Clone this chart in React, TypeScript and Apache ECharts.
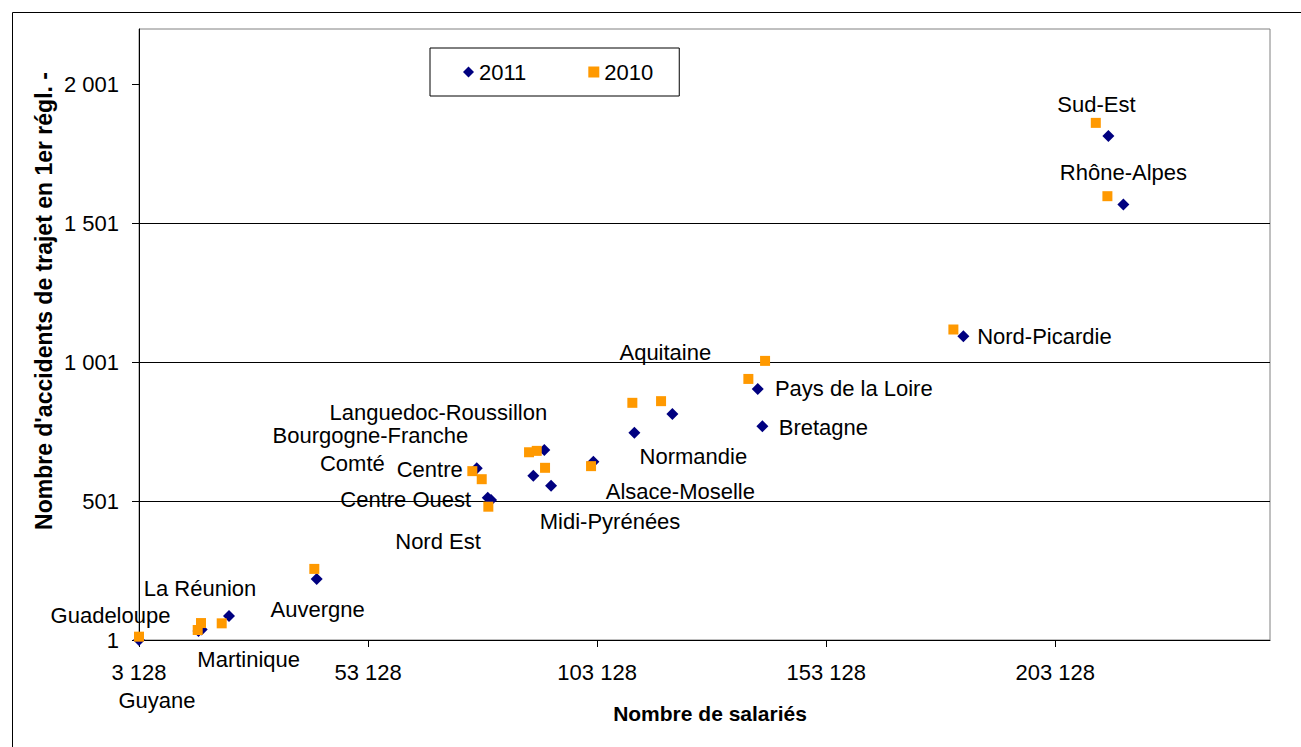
import React, { useEffect, useRef } from 'react';
import * as echarts from 'echarts';

const X_MIN = 3128;
const X_MAX = 250000;
const Y_MIN = 1;
const Y_MAX = 2201;
const X_STEP = 50000;
const Y_STEP = 500;

const regions = [
  'Guyane', 'Guadeloupe', 'Martinique', 'La Réunion', 'Auvergne', 'Centre',
  'Centre Ouest', 'Nord Est', 'Bourgogne-Franche\nComté', 'Languedoc-Roussillon',
  'Midi-Pyrénées', 'Alsace-Moselle', 'Normandie', 'Aquitaine', 'Pays de la Loire',
  'Bretagne', 'Nord-Picardie', 'Sud-Est', 'Rhône-Alpes',
];

const salaries2011 = [3128, 16117, 16815, 22775, 41920, 76848, 79249, 79970, 89204, 91605, 93068, 102302, 111252, 119547, 138190, 139194, 183073, 214726, 218001];
const accidents2011 = [1, 33, 39, 87, 221, 619, 513, 505, 592, 685, 556, 643, 747, 815, 905, 771, 1095, 1816, 1569];

const salaries2010 = [3128, 15942, 16663, 21181, 41396, 75887, 79380, 77939, 88265, 89946, 91758, 101800, 110815, 117081, 136138, 139784, 180890, 211976, 214508];
const accidents2010 = [13, 37, 62, 61, 257, 609, 481, 580, 677, 682, 621, 627, 855, 861, 941, 1006, 1119, 1863, 1599];

const xTicks = [3128, 53128, 103128, 153128, 203128];
const yTicks = [1, 501, 1001, 1501, 2001];

// label offsets (px) from the 2011 point
const labelOffsets: [number, number][] = [
  [18, 60], [-88, -16], [47, 30], [-29, -28], [1, 31], [-47, 1],
  [-82, 2], [-53, 41], [-163, -26], [-106, -38], [59, 36], [87, 30],
  [59, 24], [-7, -61], [96, 0], [61, 1], [81, 0], [-12, -31], [0, -32],
];

const FONT = 'Liberation Sans, Arial, sans-serif';
const fmt = (n: number) => String(Math.round(n)).replace(/\B(?=(\d{3})+(?!\d))/g, ' ');

const labelText = (name: string) => {
  const parts = name.split('\n');
  if (parts.length === 1) return name;
  return `${parts[0]}\n{b|${parts[1]}}`;
};

export default function App() {
  const ref = useRef<HTMLDivElement>(null);
  useEffect(() => {
    const chart = echarts.init(ref.current!, null, { renderer: 'svg' });
    const d2011 = salaries2011.map((x, i) => ({
      value: [x - X_MIN, accidents2011[i] - Y_MIN],
      name: regions[i],
      label: { offset: labelOffsets[i] },
    }));
    const d2010 = salaries2010.map((x, i) => ({
      value: [x - X_MIN, accidents2010[i] - Y_MIN],
      name: regions[i],
    }));
    chart.setOption({
      animation: false,
      backgroundColor: '#fff',
      textStyle: { fontFamily: FONT },
      grid: {
        left: 139, top: 29, right: 31, bottom: 107,
        show: true, borderColor: '#808080', borderWidth: 1, backgroundColor: '#fff',
      },
      legend: {
        left: 430, top: 48,
        padding: [13, 26, 13, 33],
        itemGap: 62,
        itemWidth: 11, itemHeight: 11,
        borderColor: '#000', borderWidth: 1,
        backgroundColor: '#fff',
        textStyle: { fontSize: 22, color: '#000', fontFamily: FONT },
        data: ['2011', '2010'],
      },
      xAxis: {
        type: 'value',
        min: 0, max: X_MAX - X_MIN, interval: X_STEP,
        axisLine: { show: true, lineStyle: { color: '#000', width: 1 } },
        axisTick: { show: true, length: 7, lineStyle: { color: '#000' }, customValues: xTicks.map((v) => v - X_MIN) },
        axisLabel: {
          fontSize: 22, color: '#000', fontFamily: FONT, margin: 21,
          customValues: xTicks.map((v) => v - X_MIN),
          formatter: (v: number) => fmt(v + X_MIN),
        },
        splitLine: { show: false },
      },
      yAxis: {
        type: 'value',
        min: 0, max: Y_MAX - Y_MIN, interval: Y_STEP,
        axisLine: { show: true, lineStyle: { color: '#000', width: 1 } },
        axisTick: { show: true, length: 7, lineStyle: { color: '#000' }, customValues: yTicks.map((v) => v - Y_MIN) },
        axisLabel: {
          fontSize: 22, color: '#000', fontFamily: FONT, margin: 20,
          customValues: yTicks.map((v) => v - Y_MIN),
          formatter: (v: number) => fmt(v + Y_MIN),
        },
        splitLine: { show: true, showMinLine: false, showMaxLine: false, lineStyle: { color: '#000', width: 1 } },
      },
      graphic: [
        {
          type: 'rect', left: 10, top: 10, silent: true, z: -10,
          shape: { x: 0, y: 0, width: 1400, height: 800 },
          style: { fill: 'none', stroke: '#000', lineWidth: 1 },
        },
        {
          type: 'text', x: 710, y: 713, silent: true,
          style: { text: 'Nombre de salariés', font: `bold 21px ${FONT}`, fill: '#000', align: 'center', verticalAlign: 'middle' },
        },
        {
          type: 'text', x: 44, y: 301, rotation: Math.PI / 2, silent: true,
          style: { text: "Nombre d'accidents de trajet en 1er régl. -", font: `bold 23px ${FONT}`, fill: '#000', align: 'center', verticalAlign: 'middle' },
        },
      ],
      series: [
        {
          name: '2011', type: 'scatter', symbol: 'diamond', symbolSize: 12,
          itemStyle: { color: '#000080', opacity: 1 },
          label: {
            show: true, position: 'inside',
            formatter: (p: any) => labelText(p.name),
            fontSize: 22, color: '#000', fontFamily: FONT, align: 'center', verticalAlign: 'middle', lineHeight: 28,
            opacity: 1,
            rich: { b: { fontSize: 22, color: '#000', fontFamily: FONT, lineHeight: 28, padding: [0, 36, 0, 0] } },
          },
          data: d2011,
          z: 2,
        },
        {
          name: '2010', type: 'scatter', symbol: 'rect', symbolSize: 10,
          itemStyle: { color: '#FF9900', opacity: 1 },
          data: d2010,
          z: 3,
        },
      ],
    });
    return () => chart.dispose();
  }, []);
  return <div ref={ref} style={{ position: 'fixed', left: 0, top: 0, width: 1301, height: 747 }} />;
}
